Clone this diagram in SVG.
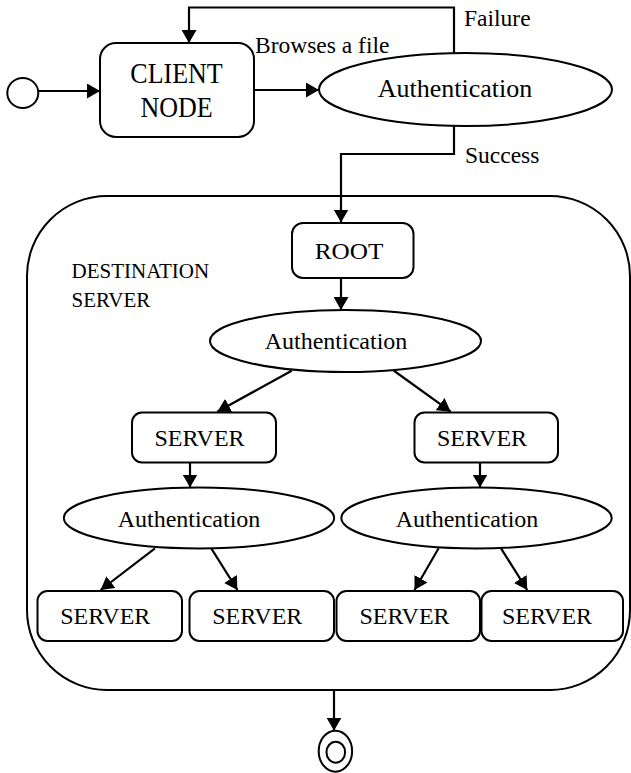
<svg xmlns="http://www.w3.org/2000/svg" width="631" height="773" viewBox="0 0 631 773">
<style>
.shape{fill:#fff;stroke:#000;stroke-width:2}
.edge{fill:none;stroke:#000;stroke-width:2.2}
.t{font-family:'Liberation Serif','DejaVu Serif',serif;fill:#000}
.big{font-size:26px}
.mid{font-size:24px}
.lbl{font-size:23.5px}
.small{font-size:21px}
</style>
<defs>
<marker id="arr" markerUnits="userSpaceOnUse" markerWidth="14" markerHeight="15" refX="13" refY="7.5" orient="auto">
<path d="M0,0 L13,7.5 L0,15 z" fill="#000"/>
</marker>
</defs>
<g id="container">
<rect class="shape" x="27" y="196" width="603" height="494" rx="80" ry="80"/>
<text class="t small" x="71.5" y="278">DESTINATION</text>
<text class="t small" x="71.5" y="306.5">SERVER</text>
</g>
<g id="start"><ellipse class="shape" cx="22.8" cy="93" rx="15.5" ry="15"/></g>
<g id="client">
<rect class="shape" x="100" y="43" width="154" height="94" rx="16"/>
<text class="t big" text-anchor="middle" transform="translate(176.5 82.5) scale(1 1.1)">CLIENT</text>
<text class="t big" text-anchor="middle" transform="translate(176.5 116.5) scale(1 1.1)">NODE</text>
</g>
<g id="auth0">
<ellipse class="shape" cx="465.5" cy="89.5" rx="146.5" ry="36.5"/>
<text class="t big" x="455" y="97" text-anchor="middle">Authentication</text>
</g>
<g id="root">
<rect class="shape" x="292" y="223" width="121.5" height="55" rx="11"/>
<text class="t mid" text-anchor="middle" transform="translate(349 258.5) scale(1.05 1)">ROOT</text>
</g>
<g id="auth1">
<ellipse class="shape" cx="345.5" cy="341" rx="135.5" ry="31"/>
<text class="t mid" x="336" y="348.5" text-anchor="middle">Authentication</text>
</g>
<g id="serverL">
<rect class="shape" x="132" y="412.5" width="144" height="50" rx="10"/>
<text class="t mid" x="199.5" y="446" text-anchor="middle">SERVER</text>
</g>
<g id="serverR">
<rect class="shape" x="414.5" y="412.5" width="143.5" height="50" rx="10"/>
<text class="t mid" x="482" y="446" text-anchor="middle">SERVER</text>
</g>
<g id="auth2L">
<ellipse class="shape" cx="199" cy="518" rx="135.2" ry="30.5"/>
<text class="t mid" x="189" y="527" text-anchor="middle">Authentication</text>
</g>
<g id="auth2R">
<ellipse class="shape" cx="476.5" cy="518" rx="135.2" ry="30.5"/>
<text class="t mid" x="467" y="527" text-anchor="middle">Authentication</text>
</g>
<g id="server1">
<rect class="shape" x="37.5" y="591" width="144.5" height="50" rx="10"/>
<text class="t mid" x="105.3" y="624" text-anchor="middle">SERVER</text>
</g>
<g id="server2">
<rect class="shape" x="189.5" y="591" width="144.5" height="50" rx="10"/>
<text class="t mid" x="257.3" y="624" text-anchor="middle">SERVER</text>
</g>
<g id="server3">
<rect class="shape" x="336.5" y="591" width="143.5" height="50" rx="10"/>
<text class="t mid" x="404.5" y="624" text-anchor="middle">SERVER</text>
</g>
<g id="server4">
<rect class="shape" x="481.5" y="591" width="141.5" height="50" rx="10"/>
<text class="t mid" x="547" y="624" text-anchor="middle">SERVER</text>
</g>
<g id="end">
<ellipse class="shape" cx="335.4" cy="751.2" rx="16.7" ry="20.5"/>
<ellipse class="shape" cx="335.8" cy="752.2" rx="9.3" ry="10.5"/>
</g>
<g id="connectors">
<line class="edge" x1="38.3" y1="91" x2="100" y2="91" marker-end="url(#arr)"/>
<line class="edge" x1="254" y1="90" x2="319" y2="90" marker-end="url(#arr)"/>
<polyline class="edge" points="454,53 454,7.5 189,7.5 189,43" marker-end="url(#arr)"/>
<polyline class="edge" points="454,126 454,154 341,154 341,222.5" marker-end="url(#arr)"/>
<line class="edge" x1="341" y1="278" x2="341" y2="310" marker-end="url(#arr)"/>
<line class="edge" x1="291.7" y1="370.7" x2="217.3" y2="411.7" marker-end="url(#arr)"/>
<line class="edge" x1="393.6" y1="370.5" x2="450.7" y2="411.7" marker-end="url(#arr)"/>
<line class="edge" x1="190" y1="462.5" x2="190" y2="487.5" marker-end="url(#arr)"/>
<line class="edge" x1="480" y1="462.5" x2="480" y2="487.5" marker-end="url(#arr)"/>
<line class="edge" x1="155" y1="548.3" x2="100.6" y2="590" marker-end="url(#arr)"/>
<line class="edge" x1="211.3" y1="548.3" x2="237.4" y2="590" marker-end="url(#arr)"/>
<line class="edge" x1="438.6" y1="548.3" x2="414.5" y2="590" marker-end="url(#arr)"/>
<line class="edge" x1="501" y1="548.3" x2="527.2" y2="590" marker-end="url(#arr)"/>
<line class="edge" x1="334" y1="690" x2="334" y2="730.7" marker-end="url(#arr)"/>
<text class="t lbl" x="255" y="53">Browses a file</text>
<text class="t lbl" x="464" y="26">Failure</text>
<text class="t lbl" x="465" y="163">Success</text>
</g>
</svg>
